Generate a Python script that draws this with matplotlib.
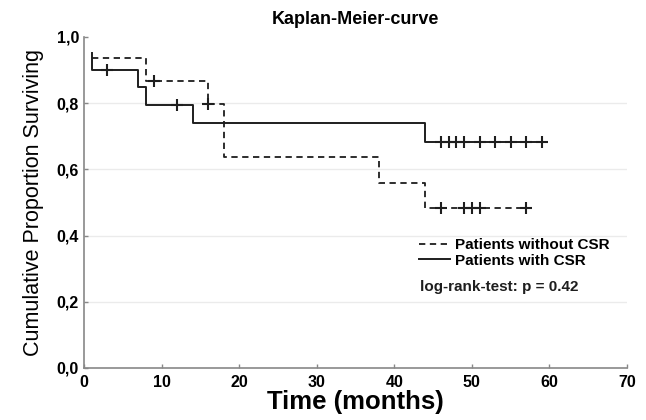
import numpy as np
import matplotlib
matplotlib.use("Agg")
import matplotlib.pyplot as plt

# Step data (time in months, survival)
with_times = [1, 1, 7, 8, 14, 44, 59]
with_surv = [0.951, 0.900, 0.850, 0.795, 0.739, 0.684, 0.684]
with_censor = [3, 12, 46, 47, 48, 49, 51, 53, 55, 57, 59]

without_times = [1, 8, 16, 18, 38, 44, 57]
without_surv = [0.936, 0.868, 0.797, 0.638, 0.560, 0.482, 0.482]
without_censor = [9, 16, 46, 49, 50, 51, 57]

x_ticks = [0, 10, 20, 30, 40, 50, 60, 70]
y_ticks = [0.0, 0.2, 0.4, 0.6, 0.8, 1.0]
y_ticklabels = ["0,0", "0,2", "0,4", "0,6", "0,8", "1,0"]


def surv_at(times, surv, t):
    idx = np.searchsorted(times, t, side="right") - 1
    return [surv[i] for i in idx]


plt.rcParams["font.family"] = ["Liberation Sans", "DejaVu Sans"]

fig = plt.figure(figsize=(6.46, 4.20), dpi=100)
ax = fig.add_axes([0.130, 0.124, 0.8406, 0.788])

for yv in [0.2, 0.4, 0.6, 0.8]:
    ax.axhline(yv, color="#ebebeb", lw=1.0, zorder=0)

lc = "#1e1e1e"
l1, = ax.step(without_times, without_surv, where="post", color=lc, lw=1.3,
              linestyle=(0, (3.5, 2.5)), label="Patients without CSR")
l2, = ax.step(with_times, with_surv, where="post", color=lc, lw=1.4,
              label="Patients with CSR")

ax.plot(with_censor, surv_at(with_times, with_surv, with_censor), "+",
        color=lc, ms=8, mew=1.5, linestyle="none")
ax.plot(without_censor, surv_at(without_times, without_surv, without_censor), "+",
        color=lc, ms=8, mew=1.5, linestyle="none")

ax.set_xlim(0, 70)
ax.set_ylim(0, 1.0)
ax.set_xticks(x_ticks)
ax.set_yticks(y_ticks)
ax.set_yticklabels(y_ticklabels)
ax.tick_params(direction="in", length=3, color="#888888", labelsize=11.5, width=1)
ax.tick_params(axis="x", pad=5)
for lab in ax.get_xticklabels() + ax.get_yticklabels():
    lab.set_fontweight("bold")

for s in ["top", "right"]:
    ax.spines[s].set_visible(False)
for s in ["left", "bottom"]:
    ax.spines[s].set_color("#888888")
    ax.spines[s].set_linewidth(1.2)

ax.set_title("Kaplan-Meier-curve", fontsize=13, fontweight="bold", pad=9)
ax.set_xlabel("Time (months)", fontsize=18.5, fontweight="bold", labelpad=0)
ax.set_ylabel("Cumulative Proportion Surviving", fontsize=15.5, labelpad=9)

leg = ax.legend(handles=[l1, l2], loc="upper left", bbox_to_anchor=(0.617, 0.392),
                frameon=False, fontsize=11, handlelength=2.0, handletextpad=0.35,
                borderaxespad=0, borderpad=0, labelspacing=0.1)
for t in leg.get_texts():
    t.set_fontweight("bold")
ax.text(0.619, 0.245, "log-rank-test: p = 0.42", transform=ax.transAxes,
        fontsize=11, fontweight="bold", color=lc, va="center")

fig.savefig("out.png", dpi=100)
